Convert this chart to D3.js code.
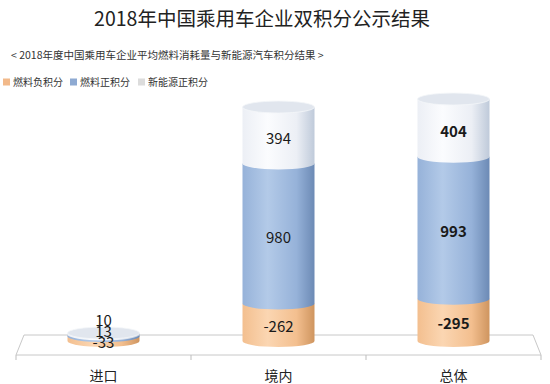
<!DOCTYPE html>
<html>
<head>
<meta charset="utf-8">
<script src="https://cdn.jsdelivr.net/npm/d3@7"></script>
<style>
  body { margin: 0; background: #fff; }
  svg { font-family: "Noto Sans CJK SC", "Noto Sans", sans-serif; }
</style>
</head>
<body>
<svg id="chart"></svg>
<script>
const WIDTH = 550
const HEIGHT = 384

const categories = ["进口", "境内", "总体"]
const seriesNames = ["燃料负积分", "燃料正积分", "新能源正积分"]
const fuelNegative = [-33, -262, -295]
const fuelPositive = [13, 980, 993]
const nevPositive = [10, 394, 404]

const seriesValues = [fuelNegative, fuelPositive, nevPositive]
const colours = [
  { key: "neg", light: "#fbd6b2", mid: "#f3bf8f", dark: "#cf955f", legend: "#f2b98a" },
  { key: "pos", light: "#b3cae8", mid: "#96b2d9", dark: "#6c8ab5", legend: "#8eaad2" },
  { key: "nev", light: "#fbfcfe", mid: "#eceff5", dark: "#bfcada", legend: "#dcdcdc" }
]

let svg = d3.select("#chart")
  .attr("width", WIDTH)
  .attr("height", HEIGHT)

let defs = svg.append("defs")
colours.forEach(c => {
  let g = defs.append("linearGradient")
    .attr("id", "grad-" + c.key)
    .attr("x1", 0).attr("x2", 1).attr("y1", 0).attr("y2", 0)
  g.append("stop").attr("offset", "0%").attr("stop-color", c.mid)
  g.append("stop").attr("offset", "35%").attr("stop-color", c.light)
  g.append("stop").attr("offset", "75%").attr("stop-color", c.mid)
  g.append("stop").attr("offset", "100%").attr("stop-color", c.dark)
})

// title + subtitle
svg.append("text")
  .attr("x", 262).attr("y", 26)
  .attr("text-anchor", "middle")
  .style("font-size", "19.5px")
  .style("fill", "#222")
  .text("2018年中国乘用车企业双积分公示结果")

svg.append("text")
  .attr("x", 11).attr("y", 59)
  .style("font-size", "10.5px")
  .style("fill", "#333")
  .text("< 2018年度中国乘用车企业平均燃料消耗量与新能源汽车积分结果 >")

// legend
let legendX = [3, 70, 138]
seriesNames.forEach((name, i) => {
  let item = svg.append("g").attr("transform", `translate(${legendX[i]}, 82)`)
  item.append("rect")
    .attr("x", 0).attr("y", -3.5)
    .attr("width", 7).attr("height", 7)
    .attr("fill", colours[i].legend)
  item.append("text")
    .attr("x", 10).attr("y", 0)
    .attr("dy", "0.35em")
    .style("font-size", "10px")
    .style("fill", "#333")
    .text(name)
})

// scales
let x = d3.scaleBand()
  .domain(categories)
  .range([16, 541])
  .paddingInner(0)

let BASE = 341
let y = d3.scaleLinear()
  .domain([0, 1700])
  .range([BASE, BASE - 1700 * 0.143])

// floor
svg.append("path")
  .attr("d", `M24,335 L533,335 L541,355 L16,355 Z`)
  .attr("fill", "#fff")
  .attr("stroke", "#c8c8c8")
  .attr("stroke-width", 1)

let tickXs = categories.map(c => x(c)).concat([x.range()[1]])
tickXs.forEach(t => {
  svg.append("line")
    .attr("x1", t).attr("x2", t)
    .attr("y1", 355).attr("y2", 360)
    .attr("stroke", "#bdbdbd")
})

svg.selectAll(".cat-label")
  .data(categories)
  .enter()
  .append("text")
  .attr("class", "cat-label")
  .attr("x", c => x(c) + x.bandwidth() / 2)
  .attr("y", 381)
  .attr("text-anchor", "middle")
  .style("font-size", "14px")
  .style("fill", "#222")
  .text(c => c)

// cylinders
let CW = 72
let RX = CW / 2
let RY = 6

categories.forEach((cat, ci) => {
  let cx = x(cat) + x.bandwidth() / 2
  let x0 = cx - RX
  let x1 = cx + RX
  let g = svg.append("g")
  let acc = 0
  let segs = []
  seriesValues.forEach((vals, si) => {
    let v = Math.abs(vals[ci])
    let yb = y(acc)
    let yt = y(acc + v)
    acc += v
    segs.push({ yb, yt, value: vals[ci], si })
    g.append("path")
      .attr("d", `M${x0},${yt} L${x0},${yb} A${RX},${RY} 0 0 0 ${x1},${yb} L${x1},${yt} Z`)
      .attr("fill", `url(#grad-${colours[si].key})`)
  })
  let top = segs[segs.length - 1].yt
  g.append("ellipse")
    .attr("cx", cx).attr("cy", top)
    .attr("rx", RX).attr("ry", RY)
    .attr("fill", "#e1e6ee")
    .attr("stroke", "#f4f6f9")
    .attr("stroke-width", 0.8)

  // labels, pushed apart when segments are too thin
  let prev = Infinity
  segs.forEach(s => {
    let ly = Math.min((s.yb + s.yt) / 2 + 4, prev - 11)
    prev = ly
    g.append("text")
      .attr("x", cx).attr("y", ly)
      .attr("dy", "0.35em")
      .attr("text-anchor", "middle")
      .style("font-size", "15px")
      .style("font-weight", cat === "总体" ? "bold" : "normal")
      .style("fill", "#1a1a1a")
      .text(s.value)
  })
})
</script>
</body>
</html>
